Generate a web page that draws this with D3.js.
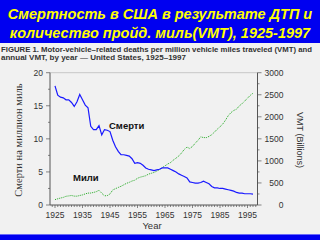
<!DOCTYPE html>
<html>
<head>
    <meta charset="utf-8" />
    <title></title>
    <script src="https://cdn.jsdelivr.net/npm/d3@7"></script>
    <style>
        body { margin: 0; }
        svg { display: block; }
    </style>
</head>
<body>
    <svg width="320" height="240"></svg>
    <script>
        // years 1925..1997
        var years = d3.range(1925, 1998);

        // deaths per million VMT (blue)
        var deaths = [18.0, 16.6, 16.3, 16.2, 15.9, 15.9, 15.5, 14.9, 15.6, 16.7,
                      15.9, 15.1, 14.7, 11.9, 11.4, 11.4, 12.0, 10.6, 11.4, 11.3,
                      11.1, 9.8, 8.8, 8.1, 7.6, 7.6, 7.5, 7.4, 7.0, 6.3,
                      6.4, 6.3, 6.0, 5.6, 5.4, 5.3, 5.2, 5.3, 5.4, 5.6,
                      5.6, 5.6, 5.4, 5.2, 5.0, 4.7, 4.5, 4.3, 4.1, 3.5,
                      3.4, 3.3, 3.3, 3.4, 3.6, 3.4, 3.2, 2.8, 2.6, 2.6,
                      2.5, 2.5, 2.4, 2.3, 2.2, 2.1, 1.9, 1.8, 1.8, 1.7,
                      1.7, 1.7, 1.65];

        // annual VMT, billions (green)
        var vmt = [122, 141, 158, 172, 198, 206, 216, 201, 200, 216,
                   229, 252, 270, 271, 285, 302, 334, 268, 208, 213,
                   250, 341, 371, 398, 424, 458, 491, 514, 544, 562,
                   606, 631, 647, 665, 700, 719, 738, 767, 805, 847,
                   888, 930, 962, 1016, 1062, 1110, 1179, 1260, 1313, 1281,
                   1328, 1402, 1467, 1545, 1529, 1527, 1555, 1595, 1653, 1720,
                   1774, 1835, 1924, 2026, 2096, 2144, 2172, 2247, 2296, 2358,
                   2423, 2486, 2535];

        var yearTicks = [1925, 1935, 1945, 1955, 1965, 1975, 1985, 1995];
        var leftTicks = [0, 5, 10, 15, 20];
        var rightTicks = [0, 500, 1000, 1500, 2000, 2500, 3000];

        var svg = d3.select('svg');

        svg.append('rect').attr('width', 320).attr('height', 240).attr('fill', '#f1f1f1');
        svg.append('rect').attr('width', 320).attr('height', 43).attr('fill', '#0000f0');
        svg.append('rect').attr('y', 235).attr('width', 320).attr('height', 5).attr('fill', '#0000f0');
        svg.append('rect').attr('y', 234).attr('width', 320).attr('height', 1).attr('fill', '#6a6af8');

        var title = svg.append('text')
            .attr('x', 160).attr('text-anchor', 'middle')
            .attr('fill', '#ffff00')
            .style('font', 'italic bold 14.5px "Liberation Sans", Arial, sans-serif');
        title.append('tspan').attr('x', 160).attr('y', 19).text('Смертность в США в результате ДТП и');
        title.append('tspan').attr('x', 160).attr('y', 38).text('количество пройд. миль(VMT), 1925-1997');

        var cap = svg.append('text')
            .attr('fill', '#333')
            .style('font', 'bold 7.4px "Liberation Sans", Arial, sans-serif');
        cap.append('tspan').attr('x', 1).attr('y', 51.5)
            .attr('textLength', 311).attr('lengthAdjust', 'spacingAndGlyphs')
            .text('FIGURE 1. Motor-vehicle–related deaths per million vehicle miles traveled (VMT) and');
        cap.append('tspan').attr('x', 1).attr('y', 60)
            .attr('textLength', 185).attr('lengthAdjust', 'spacingAndGlyphs')
            .text('annual VMT, by year — United States, 1925–1997');

        var x = d3.scaleLinear().domain([1925, 1995]).range([55, 247.5]);
        var yL = d3.scaleLinear().domain([0, 20]).range([205, 72.7]);
        var yR = d3.scaleLinear().domain([0, 3000]).range([205, 72.7]);
        var left = 50, right = 257.5;

        // top border
        svg.append('line').attr('x1', left).attr('x2', right).attr('y1', 72.7).attr('y2', 72.7)
            .attr('stroke', '#bbb').attr('stroke-width', 0.8);

        var axFont = '8.5px "Liberation Sans", Arial, sans-serif';

        var gx = svg.append('g').attr('transform', 'translate(0,205)');
        gx.append('line').attr('x1', left).attr('x2', right).attr('stroke', '#555');
        gx.selectAll('.minor').data(d3.range(1924, 1999)).enter().append('line')
            .attr('x1', function (d) { return x(d); }).attr('x2', function (d) { return x(d); })
            .attr('y1', 0).attr('y2', function (d) { return (d - 1925) % 10 === 0 ? 3 : 2; })
            .attr('stroke', '#555').attr('stroke-width', 0.7);
        gx.selectAll('text').data(yearTicks).enter().append('text')
            .attr('x', function (d) { return x(d); }).attr('y', 13)
            .attr('text-anchor', 'middle').attr('fill', '#333')
            .style('font', axFont).text(function (d) { return d; });

        var gl = svg.append('g');
        gl.append('line').attr('x1', left).attr('x2', left).attr('y1', 72.7).attr('y2', 205).attr('stroke', '#555');
        gl.selectAll('.t').data(d3.range(0, 20.1, 2.5)).enter().append('line')
            .attr('x1', left).attr('x2', function (d) { return d % 5 === 0 ? left - 4 : left - 2; })
            .attr('y1', function (d) { return yL(d); }).attr('y2', function (d) { return yL(d); })
            .attr('stroke', '#555').attr('stroke-width', 0.7);
        gl.selectAll('text').data(leftTicks).enter().append('text')
            .attr('x', left - 7).attr('y', function (d) { return yL(d) + 3; })
            .attr('text-anchor', 'end').attr('fill', '#333')
            .style('font', axFont).text(function (d) { return d; });

        var gr = svg.append('g');
        gr.append('line').attr('x1', right).attr('x2', right).attr('y1', 72.7).attr('y2', 205).attr('stroke', '#555');
        gr.selectAll('.t').data(d3.range(0, 3001, 250)).enter().append('line')
            .attr('x1', right).attr('x2', function (d) { return d % 500 === 0 ? right + 4 : right + 2; })
            .attr('y1', function (d) { return yR(d); }).attr('y2', function (d) { return yR(d); })
            .attr('stroke', '#555').attr('stroke-width', 0.7);
        gr.selectAll('text').data(rightTicks).enter().append('text')
            .attr('x', right + 26).attr('y', function (d) { return yR(d) + 3; })
            .attr('text-anchor', 'end').attr('fill', '#333')
            .style('font', axFont).text(function (d) { return d; });

        svg.append('text').attr('x', 152).attr('y', 229).attr('text-anchor', 'middle')
            .attr('fill', '#333').style('font', '9.5px "Liberation Sans", Arial, sans-serif').text('Year');

        svg.append('text').attr('transform', 'translate(22,140) rotate(-90)').attr('text-anchor', 'middle')
            .attr('fill', '#333').style('font', '10.5px "Liberation Serif", "Times New Roman", serif')
            .text('Смерти на миллион миль');

        svg.append('text').attr('transform', 'translate(297,140) rotate(90)').attr('text-anchor', 'middle')
            .attr('fill', '#333').style('font', '9px "Liberation Sans", Arial, sans-serif')
            .text('VMT (Billions)');

        var lineD = d3.line().x(function (d, i) { return x(years[i]); }).y(function (d) { return yL(d); });
        var lineV = d3.line().x(function (d, i) { return x(years[i]); }).y(function (d) { return yR(d); });

        svg.append('path').datum(vmt).attr('d', lineV).attr('fill', 'none')
            .attr('stroke', '#22aa22').attr('stroke-width', 1).attr('stroke-dasharray', '1,1');
        svg.append('path').datum(deaths).attr('d', lineD).attr('fill', 'none')
            .attr('stroke', '#1a1aff').attr('stroke-width', 1.2);

        svg.append('text').attr('x', 109).attr('y', 129).attr('fill', '#111')
            .style('font', 'bold 9.5px "Liberation Sans", Arial, sans-serif').text('Смерти');
        svg.append('text').attr('x', 73).attr('y', 181).attr('fill', '#111')
            .style('font', 'bold 9.5px "Liberation Sans", Arial, sans-serif').text('Мили');
    </script>
</body>
</html>
